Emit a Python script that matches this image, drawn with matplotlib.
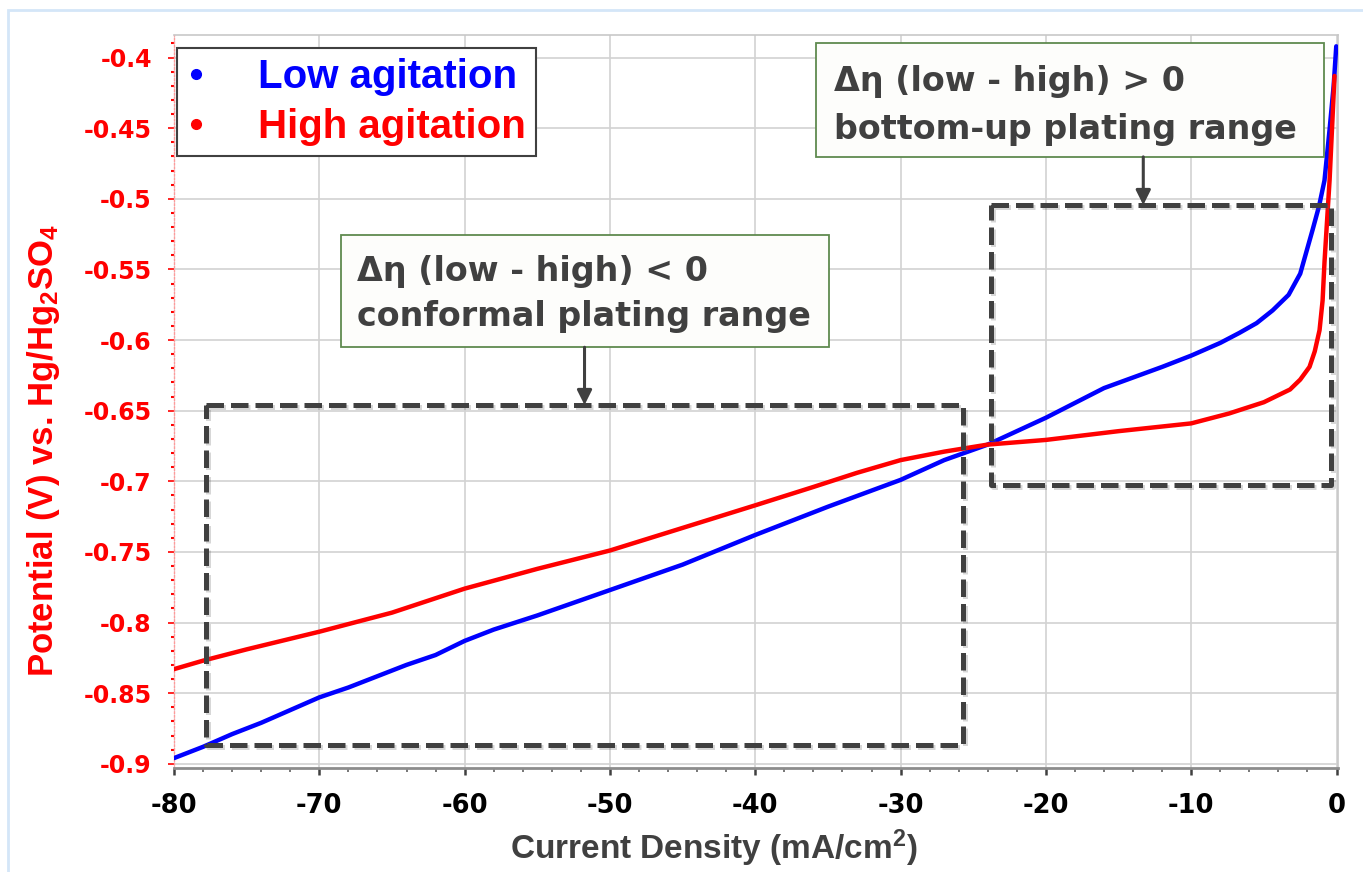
import numpy as np
import matplotlib
matplotlib.use('Agg')
import matplotlib.pyplot as plt
from matplotlib.lines import Line2D
from matplotlib.patches import Rectangle
import matplotlib.patheffects as pe

plt.rcParams['font.family'] = ['Liberation Sans', 'DejaVu Sans']
plt.rcParams['mathtext.fontset'] = 'custom'
plt.rcParams['mathtext.rm'] = 'Liberation Sans:bold'
plt.rcParams['mathtext.default'] = 'rm'

# Polarisation curves (current density mA/cm2, potential V)
lowX = [-80, -78, -76, -74, -72, -70, -68, -66, -64, -62, -60, -58, -55, -50, -45, -40, -35,
        -30, -27, -24, -20, -16, -12, -10, -8, -6.7, -5.5, -4.4, -3.3, -2.5, -1.65, -1.2,
        -0.83, -0.48, -0.2, -0.02]
lowY = [-0.896, -0.888, -0.879, -0.871, -0.862, -0.853, -0.846, -0.838, -0.830, -0.823, -0.813,
        -0.805, -0.795, -0.777, -0.759, -0.738, -0.718, -0.699, -0.685, -0.674, -0.655, -0.634,
        -0.619, -0.611, -0.602, -0.595, -0.588, -0.579, -0.568, -0.553, -0.522, -0.505,
        -0.487, -0.451, -0.42, -0.392]
highX = [-80, -78, -75, -70, -65, -60, -55, -50, -45, -40, -36, -33, -30, -27, -24, -20, -15,
         -10, -7.4, -5, -3.2, -2.5, -1.86, -1.5, -1.17, -0.96, -0.83, -0.65, -0.48, -0.14]
highY = [-0.833, -0.827, -0.819, -0.8065, -0.793, -0.776, -0.762, -0.749, -0.733, -0.717, -0.704,
         -0.694, -0.685, -0.679, -0.674, -0.6707, -0.6645, -0.659, -0.652, -0.644, -0.635, -0.628,
         -0.619, -0.608, -0.593, -0.572, -0.545, -0.515, -0.487, -0.413]

seriesNames = ['Low agitation', 'High agitation']
seriesColors = ['#0000ff', '#ff0000']
xTicks = [-80, -70, -60, -50, -40, -30, -20, -10, 0]
yTicks = [-0.9, -0.85, -0.8, -0.75, -0.7, -0.65, -0.6, -0.55, -0.5, -0.45, -0.4]
yTickLabels = ['-0.9', '-0.85', '-0.8', '-0.75', '-0.7', '-0.65', '-0.6', '-0.55', '-0.5', '-0.45', '-0.4']

W, H = 1363, 872
fig = plt.figure(figsize=(W/100, H/100), dpi=100)
fig.patch.set_facecolor('white')
# light blue frame of the original slide
fig.add_artist(Rectangle((8/W, -0.05), 1.1, 1-10/H+0.05, transform=fig.transFigure,
                         fill=False, edgecolor='#d4e6f8', lw=2))

ax = fig.add_axes([174/W, 1-768/H, 1164/W, 733/H])
ax.plot(lowX, lowY, color=seriesColors[0], lw=3.2, zorder=4, solid_capstyle='round')
ax.plot(highX, highY, color=seriesColors[1], lw=3.2, zorder=4, solid_capstyle='round')

ax.set_xlim(-80, 0.1)
ax.set_ylim(-0.903, -0.384)
ax.set_xticks(xTicks)
ax.set_xticklabels([str(t) for t in xTicks])
ax.set_xticks(np.arange(-80, 0.1, 2), minor=True)
ax.set_yticks(yTicks)
ax.set_yticklabels(yTickLabels)
ax.set_yticks(np.arange(-0.9, -0.385, 0.01), minor=True)
ax.grid(True, which='major', color='#d2d2d2', lw=1.2)
ax.set_axisbelow(True)

for lab in ax.get_xticklabels():
    lab.set_fontfamily('DejaVu Sans')
    lab.set_fontweight('bold')
    lab.set_fontsize(18.5)
    lab.set_color('black')
for lab in ax.get_yticklabels():
    lab.set_fontfamily('DejaVu Sans')
    lab.set_fontweight('bold')
    lab.set_fontsize(17)
    lab.set_color('red')
ax.tick_params(axis='x', which='major', length=5, width=1.8, color='#404040', pad=13)
ax.tick_params(axis='x', which='minor', length=3, width=1.2, color='#606060')
ax.tick_params(axis='y', which='major', length=4, width=1.2, color='red', pad=12)
ax.tick_params(axis='y', which='minor', length=2, width=1.5, color='red')

ax.spines['bottom'].set_color('#8c8c8c')
ax.spines['bottom'].set_linewidth(2)
ax.spines['left'].set_color('#ff9a9a')
ax.spines['left'].set_linestyle(':')
ax.spines['left'].set_linewidth(1)
for s in ['top', 'right']:
    ax.spines[s].set_color('#c8c8c8')
    ax.spines[s].set_linewidth(1.2)

fig.text(714/W, 1-848/H, 'Current Density (mA/cm$^2$)', ha='center', va='center',
         fontsize=24, fontweight='bold', color='#404040')
fig.text(44/W, 1-450/H, 'Potential (V) vs. Hg/Hg$_2$SO$_4$', ha='center', va='center',
         rotation=90, fontsize=25, fontweight='bold', color='red')

# legend
handles = [Line2D([], [], marker='o', ls='', color=c, markersize=7) for c in seriesColors]
leg = ax.legend(handles, seriesNames, loc='upper left', bbox_to_anchor=(0.003, 0.982),
                borderaxespad=0, prop={'family': 'Liberation Sans', 'weight': 'bold', 'size': 29},
                labelcolor=seriesColors, fancybox=False, edgecolor='#404040', framealpha=1,
                handletextpad=1.35, handlelength=0.4, borderpad=0.25, labelspacing=0.3)
leg.get_frame().set_linewidth(1.5)
leg.set_zorder(6)

# dashed region boxes
shadow = [pe.SimpleLineShadow(offset=(1.5, -1.5), alpha=0.25, shadow_color='#606060'), pe.Normal()]
for (x0, x1, y0, y1) in [(-77.8, -25.7, -0.887, -0.646), (-23.8, -0.37, -0.7025, -0.5044)]:
    ax.plot([x0, x1, x1, x0, x0], [y1, y1, y0, y0, y1], color='#404040', lw=3.6,
            dashes=(3.5, 1.4), zorder=5, path_effects=shadow)

# text boxes with arrows
boxes = [(-68.5, -34.96, -0.6051, -0.5256, -67.4, -0.5516, -0.5834,
          'Δη (low - high) < 0', 'conformal plating range', -51.75, -0.646),
         (-35.83, -0.83, -0.4703, -0.3896, -34.6, -0.4169, -0.4512,
          'Δη (low - high) > 0', 'bottom-up plating range', -13.3, -0.5044)]
for (bx0, bx1, by0, by1, tx, ty1, ty2, line1, line2, ax_x, ax_y) in boxes:
    ax.add_patch(Rectangle((bx0, by0), bx1-bx0, by1-by0, facecolor='#fdfdfb',
                           edgecolor='#5f8a4f', lw=1.3, zorder=6))
    ax.text(tx, ty1, line1, ha='left', va='center', fontsize=24, fontweight='bold',
            family='DejaVu Sans', color='#404040', zorder=7)
    ax.text(tx, ty2, line2, ha='left', va='center', fontsize=24, fontweight='bold',
            family='DejaVu Sans', color='#404040', zorder=7)
    ax.annotate('', xy=(ax_x, ax_y), xytext=(ax_x, by0),
                arrowprops=dict(arrowstyle='-|>', color='#404040', lw=2.2,
                                mutation_scale=22, shrinkA=0, shrinkB=0), zorder=7)

fig.savefig('out.png', dpi=100)
